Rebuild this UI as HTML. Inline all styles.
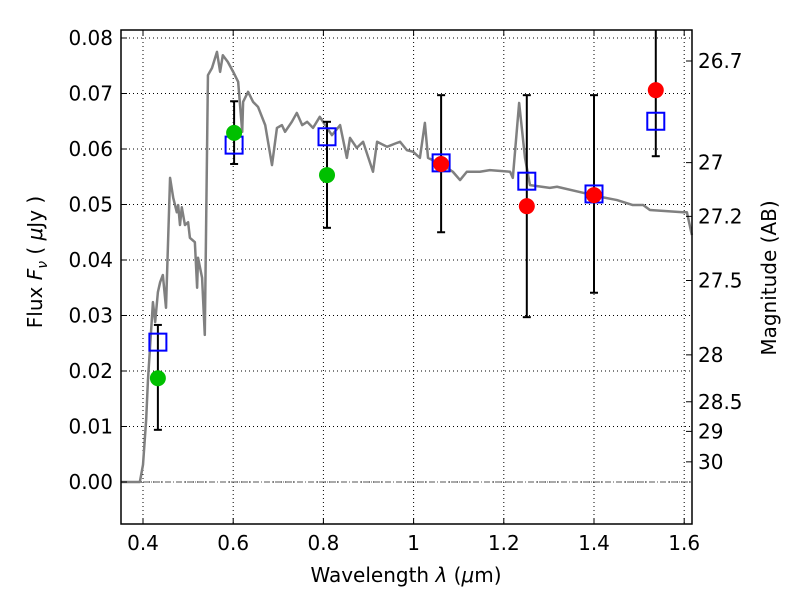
<!DOCTYPE html>
<html><head><meta charset="utf-8"><style>
body{margin:0;background:#fff}
svg text{font-family:"DejaVu Sans","Liberation Sans",sans-serif;fill:#000}
</style></head><body>
<svg id="c" width="800" height="600" xmlns="http://www.w3.org/2000/svg"></svg>
<script>
const specWave=[0.351,0.393,0.400,0.407,0.411,0.422,0.427,0.433,0.438,0.444,0.451,0.460,0.467,0.475,0.478,0.482,0.486,0.493,0.500,0.504,0.515,0.520,0.522,0.531,0.537,0.544,0.553,0.564,0.571,0.577,0.588,0.600,0.611,0.620,0.622,0.633,0.644,0.655,0.671,0.686,0.697,0.708,0.715,0.730,0.741,0.753,0.764,0.777,0.792,0.808,0.819,0.837,0.852,0.859,0.874,0.888,0.910,0.919,0.941,0.963,0.970,0.985,0.999,1.014,1.025,1.032,1.065,1.087,1.103,1.118,1.147,1.169,1.214,1.220,1.234,1.247,1.258,1.302,1.318,1.376,1.413,1.451,1.486,1.509,1.524,1.597,1.606,1.617];
const specFlux=[0,0,0.0031,0.0112,0.0184,0.0324,0.0288,0.0342,0.0360,0.0373,0.0314,0.0548,0.0512,0.0486,0.0499,0.0463,0.0495,0.0463,0.0468,0.0440,0.0432,0.0350,0.0404,0.0368,0.0265,0.0733,0.0746,0.0775,0.0739,0.0769,0.0757,0.0739,0.0721,0.0631,0.0685,0.0703,0.0685,0.0676,0.0643,0.0571,0.0638,0.0643,0.0631,0.0649,0.0665,0.0643,0.0649,0.0638,0.0658,0.0638,0.0625,0.0643,0.0584,0.0620,0.0602,0.0613,0.0559,0.0613,0.0604,0.0611,0.0613,0.0598,0.0595,0.0584,0.0647,0.0584,0.0571,0.0559,0.0544,0.0559,0.0559,0.0562,0.0559,0.0548,0.0683,0.0584,0.0535,0.0530,0.0532,0.0521,0.0514,0.0508,0.0499,0.0499,0.0490,0.0486,0.0486,0.0445];
const obsWave=[0.433,0.602,0.808,1.061,1.251,1.400,1.537];
const obsFlux=[0.0187,0.0629,0.0553,0.0573,0.0497,0.0517,0.0706];
const obsColor=['#00c000','#00c000','#00c000','#ff0000','#ff0000','#ff0000','#ff0000'];
const errHi=[0.0283,0.0686,0.0649,0.0697,0.0697,0.0697,0.095];
const errLo=[0.0094,0.0573,0.0458,0.0450,0.0297,0.0341,0.0587];
const modelFlux=[0.0252,0.0607,0.0622,0.0575,0.0542,0.0519,0.0650];
const xTicks=[0.4,0.6,0.8,1.0,1.2,1.4,1.6];
const xTickLabels=['0.4','0.6','0.8','1','1.2','1.4','1.6'];
const yTicks=[0,0.01,0.02,0.03,0.04,0.05,0.06,0.07,0.08];
const yTickLabels=['0.00','0.01','0.02','0.03','0.04','0.05','0.06','0.07','0.08'];
const magTicks=[26.7,27,27.2,27.5,28,28.5,29,30];
const magLabels=['26.7','27','27.2','27.5','28','28.5','29','30'];

const L=121,R=692,T=30,B=524;
const X=v=>143+(v-0.4)*451;
const Y=v=>482-v*5550;
const magToFlux=m=>Math.pow(10,(23.9-m)/2.5);
const svg=document.getElementById('c');
const NS='http://www.w3.org/2000/svg';
function mk(tag,attrs,parent){const e=document.createElementNS(NS,tag);for(const k in attrs)e.setAttribute(k,attrs[k]);(parent||svg).appendChild(e);return e;}

const grid=mk('g',{});


xTicks.forEach(v=>{mk('line',{x1:X(v),x2:X(v),y1:T,y2:B,stroke:'#000','stroke-width':1,'stroke-dasharray':'1,3'},grid);});
yTicks.forEach(v=>{mk('line',{x1:L,x2:R,y1:Y(v),y2:Y(v),stroke:'#000','stroke-width':1,'stroke-dasharray':'1,3'},grid);});

const zl=mk('line',{x1:L,x2:R,y1:Y(0),y2:Y(0),stroke:'#555','stroke-width':1,'stroke-dasharray':'6,2,1,2'});



const sp=mk('polyline',{points:specWave.map((w,i)=>X(w)+','+Y(specFlux[i])).join(' '),fill:'none',stroke:'#808080','stroke-width':2.5,'stroke-linejoin':'round'});



obsWave.forEach((w,i)=>{
  const g=mk('g',{});
  
  
  const x=X(w),y1=Math.max(T,Y(errHi[i])),y2=Y(errLo[i]);
  mk('line',{x1:x,x2:x,y1:y1,y2:y2,stroke:'#000','stroke-width':2},g);
  if(Y(errHi[i])>T)mk('line',{x1:x-4,x2:x+4,y1:y1,y2:y1,stroke:'#000','stroke-width':2},g);
  mk('line',{x1:x-4,x2:x+4,y1:y2,y2:y2,stroke:'#000','stroke-width':2},g);
});
obsWave.forEach((w,i)=>{
  const s=mk('rect',{x:X(w)-8.5,y:Y(modelFlux[i])-8.5,width:17,height:17,fill:'none',stroke:'#0000ff','stroke-width':2});
  
  
});
obsWave.forEach((w,i)=>{
  const c=mk('circle',{cx:X(w),cy:Y(obsFlux[i]),r:8,fill:obsColor[i]});
  
  
});

const fr=mk('rect',{x:L,y:T,width:R-L,height:B-T,fill:'none',stroke:'#000','stroke-width':1.5});



xTicks.forEach((v,i)=>{
  mk('line',{x1:X(v),x2:X(v),y1:B,y2:B-6,stroke:'#000'});mk('line',{x1:X(v),x2:X(v),y1:T,y2:T+6,stroke:'#000'});
  const t=mk('text',{x:X(v),y:B+26,'text-anchor':'middle','font-size':20});t.textContent=xTickLabels[i];
  
  
});
yTicks.forEach((v,i)=>{
  mk('line',{x1:L,x2:L+6,y1:Y(v),y2:Y(v),stroke:'#000'});
  const t=mk('text',{x:L-8,y:Y(v)+7,'text-anchor':'end','font-size':20});t.textContent=yTickLabels[i];
  
  
});
magTicks.forEach((m,i)=>{
  const y=Y(magToFlux(m));
  mk('line',{x1:R,x2:R-6,y1:y,y2:y,stroke:'#000'});
  const t=mk('text',{x:R+6,y:y+7,'font-size':20});t.textContent=magLabels[i];
  
  
});

const xt=mk('text',{x:406,y:582,'text-anchor':'middle','font-size':20});
xt.innerHTML='Wavelength  <tspan font-style="italic">λ</tspan> (<tspan font-style="italic">μ</tspan>m)';


const yt=mk('text',{x:0,y:0,'text-anchor':'middle','font-size':20,transform:'translate(42,262) rotate(-90)'});
yt.innerHTML='Flux  <tspan font-style="italic">F</tspan><tspan font-style="italic" font-size="14" dy="5">ν</tspan><tspan dy="-5">  ( </tspan><tspan font-style="italic">μ</tspan>Jy )';


const rt=mk('text',{x:0,y:0,'text-anchor':'middle','font-size':20,transform:'translate(776,278) rotate(-90)'});
rt.textContent='Magnitude (AB)';


</script>
</body></html>
